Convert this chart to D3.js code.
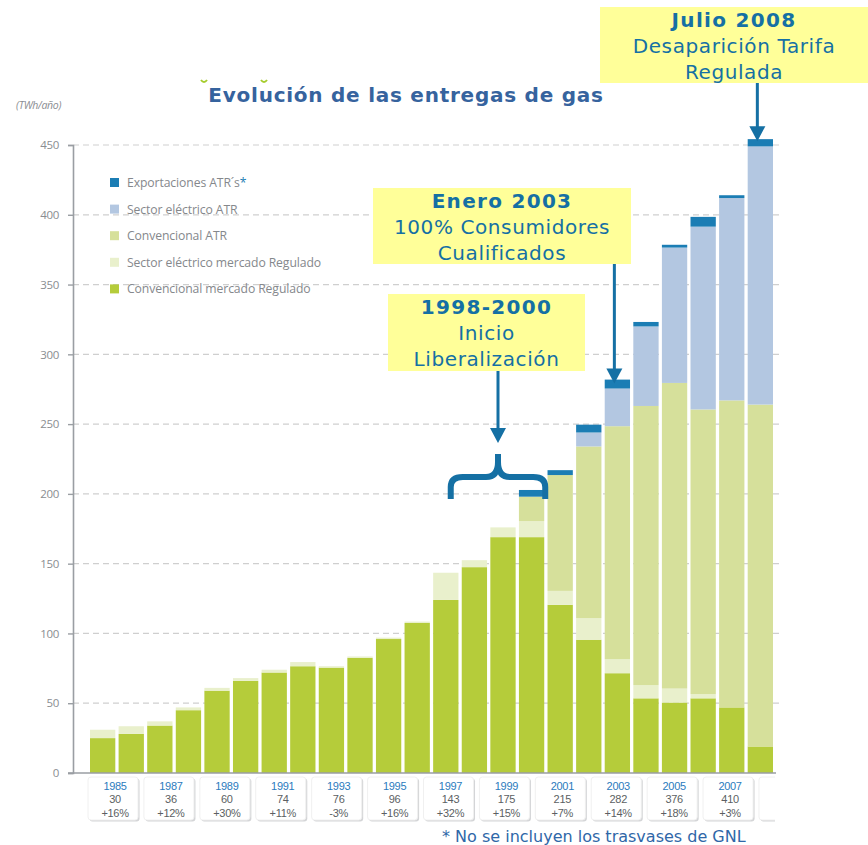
<!DOCTYPE html>
<html>
<head>
<meta charset="utf-8">
<script src="https://cdn.jsdelivr.net/npm/d3@7"></script>
<style>
  body { margin: 0; background: #fff; }
  svg { display: block; }
</style>
</head>
<body>
<script>
// DATA (TWh/año)

const years = ["1985","1986","1987","1988","1989","1990","1991","1992","1993","1994","1995","1996",
               "1997","1998","1999","2000","2001","2002","2003","2004","2005","2006","2007","2008"];

const convReg   = [25, 28, 34, 45, 59, 66, 72, 76.5, 75.5, 82.5, 96, 107.5,
                   124, 147.5, 169, 169, 120.5, 95.5, 71.5, 53.5, 50.5, 53.5, 47, 19];
const elecReg   = [6, 5.5, 3, 2, 2, 2, 2, 3, 1, 1, 1, 1,
                   19.5, 5, 7, 11.5, 10, 15.5, 10, 9.5, 10, 3, 0, 0];
const convATR   = [0, 0, 0, 0, 0, 0, 0, 0, 0, 0, 0, 0,
                   0, 0, 0, 17.5, 83, 123, 167, 200, 219, 204, 220, 245];
const elecATR   = [0, 0, 0, 0, 0, 0, 0, 0, 0, 0, 0, 0,
                   0, 0, 0, 0, 0, 10, 27, 57, 97, 131, 145, 185];
const exportATR = [0, 0, 0, 0, 0, 0, 0, 0, 0, 0, 0, 0,
                   0, 0, 0, 4.8, 3.5, 5.6, 6.4, 3.2, 2, 7, 2, 5.2];

const seriesNames = ["Exportaciones ATR´s", "Sector eléctrico ATR", "Convencional ATR",
                     "Sector eléctrico mercado Regulado", "Convencional mercado Regulado"];
const seriesKeys  = ["export", "elecATR", "convATR", "elecReg", "convReg"];
const seriesColors = ["#1b7db4", "#b3c7e1", "#d6e09b", "#e9f0cc", "#b5cc3a"];

const yTicks = [0, 50, 100, 150, 200, 250, 300, 350, 400, 450];

const labelYears  = ["1985","1987","1989","1991","1993","1995","1997","1999","2001","2003","2005","2007",""];
const labelTotals = ["30","36","60","74","76","96","143","175","215","282","376","410",""];
const labelGrowth = ["+16%","+12%","+30%","+11%","-3%","+16%","+32%","+15%","+7%","+14%","+18%","+3%",""];

// SETUP

const W = 868, H = 845;
const blue = "#1570a4";

const svg = d3.select("body").append("svg")
    .attr("width", W)
    .attr("height", H);

const rows = years.map((yr, i) => ({
  year: yr,
  convReg: convReg[i], elecReg: elecReg[i], convATR: convATR[i],
  elecATR: elecATR[i], export: exportATR[i]
}));

const stack = d3.stack().keys(seriesKeys.slice().reverse());
const layers = stack(rows);

const x = d3.scaleBand().domain(years).range([90, 773]).paddingInner(0.115).paddingOuter(0);
const y = d3.scaleLinear().domain([0, 450]).range([773, 145]);
const color = d3.scaleOrdinal().domain(seriesKeys).range(seriesColors);

// grid
svg.append("g")
  .selectAll("line")
  .data(yTicks.filter(d => d > 0))
  .join("line")
    .attr("x1", 73).attr("x2", 780)
    .attr("y1", d => y(d)).attr("y2", d => y(d))
    .attr("stroke", "#cfcfcf")
    .attr("stroke-width", 1.2)
    .attr("stroke-dasharray", "6,4");

// y axis
const yAxis = svg.append("g")
    .attr("transform", "translate(73,0)")
    .call(d3.axisLeft(y).tickValues(yTicks).tickSize(5).tickPadding(9));
yAxis.select(".domain").attr("stroke", "#9a9ea3").attr("stroke-width", 1.6);
yAxis.selectAll(".tick line").attr("stroke", "#9a9ea3").attr("stroke-width", 1.4);
yAxis.selectAll(".tick text")
    .attr("fill", "#8a8d91")
    .style("font", "11.5px 'Open Sans', sans-serif")
    .style("letter-spacing", "-0.3px");

svg.append("text")
    .attr("x", 16).attr("y", 109)
    .attr("fill", "#8a8d91")
    .style("font", "italic 10.5px 'Open Sans', sans-serif")
    .style("letter-spacing", "-0.3px")
    .text("(TWh/año)");

// bars
svg.append("g")
  .selectAll("g")
  .data(layers)
  .join("g")
    .attr("fill", d => color(d.key))
  .selectAll("rect")
  .data(d => d)
  .join("rect")
    .attr("x", d => x(d.data.year))
    .attr("width", x.bandwidth())
    .attr("y", d => y(d[1]))
    .attr("height", d => Math.max(0, y(d[0]) - y(d[1])));

// baseline
svg.append("line")
    .attr("x1", 68).attr("x2", 776)
    .attr("y1", y(0)).attr("y2", y(0))
    .attr("stroke", "#9a9ea3").attr("stroke-width", 1.6);

// legend
const legend = svg.append("g")
  .selectAll("g")
  .data(seriesNames)
  .join("g")
    .attr("transform", (d, i) => `translate(110,${178 + i * 26.6})`);
legend.append("rect")
    .attr("width", 9).attr("height", 9)
    .attr("fill", (d, i) => seriesColors[i]);
legend.append("text")
    .attr("x", 17).attr("y", 9)
    .attr("fill", "#85888c")
    .style("font", "12.2px 'Open Sans', sans-serif")
    .style("letter-spacing", "-0.1px")
    .text(d => d)
  .filter((d, i) => i === 0)
  .append("tspan")
    .attr("fill", "#1b7db4")
    .text("*");

// x labels (two years per box)
const lx = d3.scaleBand().domain(labelYears.map((d, i) => i)).range([88, 809]).paddingInner(0.105).paddingOuter(0);

svg.append("clipPath").attr("id", "clipLab")
  .append("rect").attr("x", 0).attr("y", 770).attr("width", 775).attr("height", 60);

const lab = svg.append("g")
    .attr("clip-path", "url(#clipLab)")
  .selectAll("g")
  .data(labelYears)
  .join("g")
    .attr("transform", (d, i) => `translate(${lx(i)},777)`);

lab.append("rect")
    .attr("x", 1.5).attr("y", 1.5)
    .attr("width", lx.bandwidth()).attr("height", 43)
    .attr("rx", 3)
    .attr("fill", "#d4d5d7");
lab.append("rect")
    .attr("width", lx.bandwidth()).attr("height", 43)
    .attr("rx", 3)
    .attr("fill", "#fff")
    .attr("stroke", "#f0f0f0");

const labLines = [
  { y: 12.5, fill: "#2b7bbd", get: (d, i) => d },
  { y: 26,   fill: "#5c5f63", get: (d, i) => labelTotals[i] },
  { y: 39.5, fill: "#5c5f63", get: (d, i) => labelGrowth[i] }
];
labLines.forEach(l => {
  lab.append("text")
      .attr("x", lx.bandwidth() / 2 + 2)
      .attr("y", l.y)
      .attr("text-anchor", "middle")
      .attr("fill", l.fill)
      .style("font", "11px 'Liberation Sans', Arial, sans-serif")
      .style("letter-spacing", "-0.3px")
      .text(l.get);
});

// title
svg.append("text")
    .attr("x", 406).attr("y", 102)
    .attr("text-anchor", "middle")
    .attr("fill", "#36639e")
    .style("font", "bold 20px 'DejaVu Sans', Verdana, sans-serif")
    .style("letter-spacing", "0.75px")
    .text("Evolución de las entregas de gas");

// little green bits above the title
svg.append("g")
  .selectAll("path")
  .data([[204, 83], [264, 83]])
  .join("path")
    .attr("d", d => `M${d[0] - 3},${d[1] - 3} Q${d[0]},${d[1] + 1} ${d[0] + 3},${d[1] - 3}`)
    .attr("fill", "none")
    .attr("stroke", "#a6cc2e")
    .attr("stroke-width", 2);

// footnote
svg.append("text")
    .attr("x", 442).attr("y", 842)
    .attr("fill", "#2f67a8")
    .style("font", "16px 'DejaVu Sans', Verdana, sans-serif")
    .text("* No se incluyen los trasvases de GNL");

// annotations
function totalOf(yr) {
  const i = years.indexOf(yr);
  return convReg[i] + elecReg[i] + convATR[i] + elecATR[i] + exportATR[i];
}

function arrow(xp, y0, tip) {
  svg.append("line")
      .attr("x1", xp).attr("x2", xp)
      .attr("y1", y0).attr("y2", tip - 8)
      .attr("stroke", blue).attr("stroke-width", 3);
  svg.append("path")
      .attr("d", `M${xp - 8},${tip - 15} L${xp + 8},${tip - 15} L${xp},${tip} Z`)
      .attr("fill", blue);
}

function noteBox(bx, by, bw, bh, lines) {
  svg.append("rect")
      .attr("x", bx).attr("y", by).attr("width", bw).attr("height", bh)
      .attr("fill", "#ffff99");
  const t = svg.append("text")
      .attr("text-anchor", "middle")
      .attr("fill", blue)
      .style("font-family", "'DejaVu Sans', Verdana, sans-serif")
      .style("font-size", "20px");
  lines.forEach((l, i) => {
    t.append("tspan")
        .attr("x", bx + bw / 2)
        .attr("y", by + 20 + i * 26)
        .style("font-weight", i === 0 ? "bold" : "normal")
        .style("letter-spacing", i === 0 ? "1.3px" : "0.6px")
        .text(l);
  });
}

// Julio 2008
const x08 = x("2008") + x.bandwidth() / 2 - 3;
arrow(x08, 83, y(totalOf("2008")) + 2);
noteBox(600, 7, 268, 76, ["Julio 2008", "Desaparición Tarifa", "Regulada"]);

// Enero 2003
const x03 = x("2003") + x.bandwidth() / 2 - 3;
arrow(x03, 264, y(totalOf("2003")) + 4);
noteBox(373, 188, 258, 76, ["Enero 2003", "100% Consumidores", "Cualificados"]);

// 1998-2000 with brace
const bL = x("1998") - 11, bR = x("2000") + x.bandwidth() + 1, bM = 498;
arrow(bM, 371, 443);
noteBox(388, 294, 197, 77, ["1998-2000", "Inicio", "Liberalización"]);
svg.append("path")
    .attr("d", `M${bL},499 L${bL},487 Q${bL},477 ${bL + 12},477 L${bM - 12},477 Q${bM},477 ${bM},462 L${bM},454
                M${bM},462 Q${bM},477 ${bM + 12},477 L${bR - 12},477 Q${bR},477 ${bR},487 L${bR},499`)
    .attr("fill", "none")
    .attr("stroke", blue)
    .attr("stroke-width", 6)
    .attr("stroke-linecap", "butt");
</script>
</body>
</html>
